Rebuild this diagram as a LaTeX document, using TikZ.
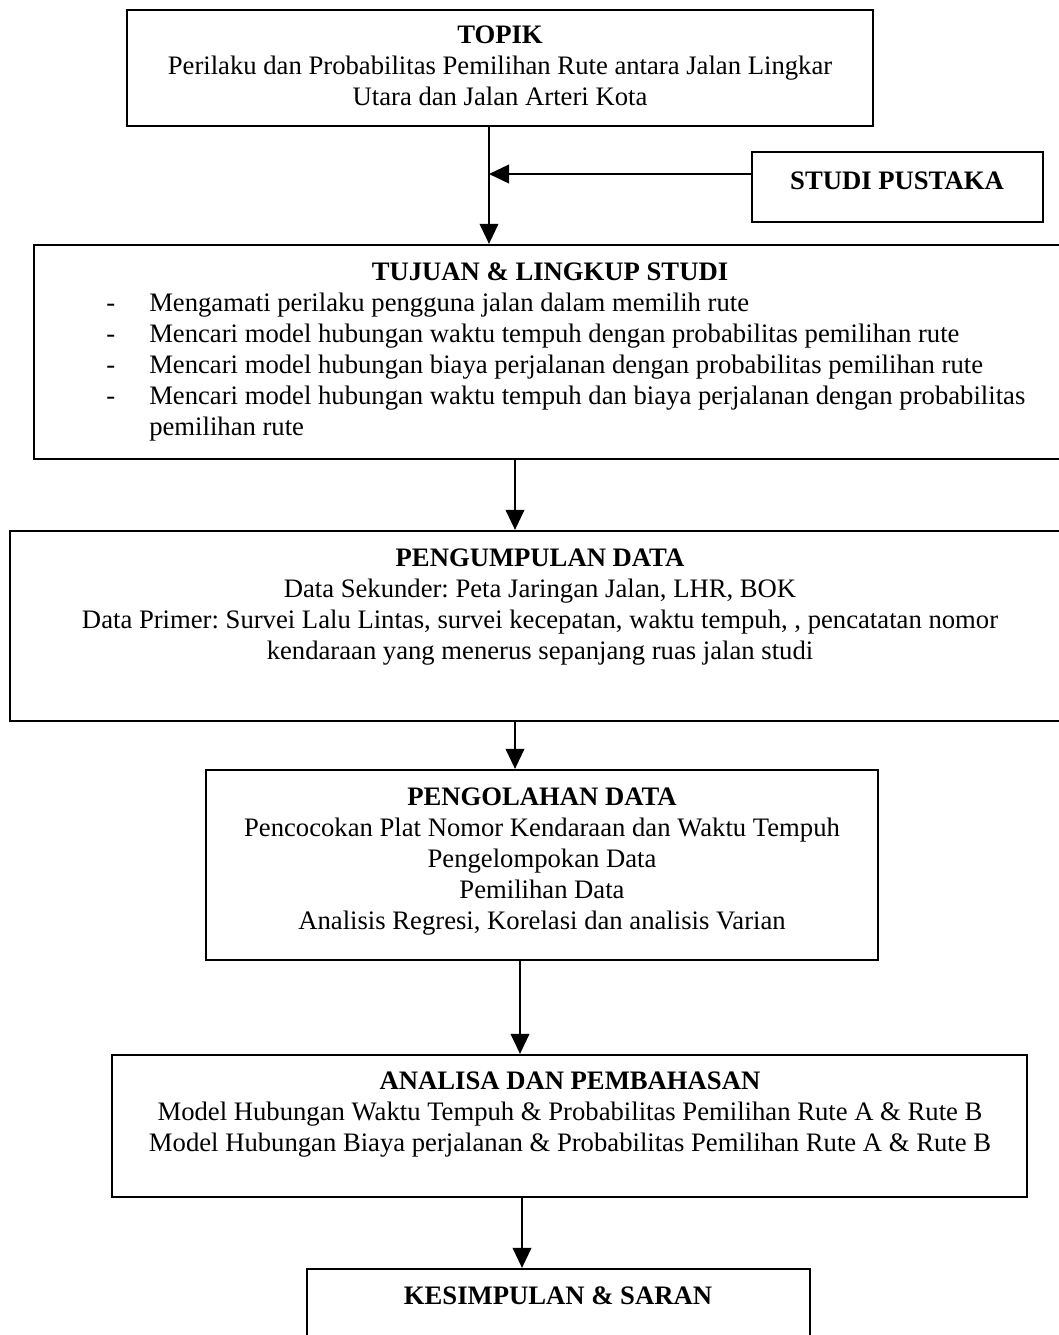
\documentclass[tikz,border=0pt]{standalone}
\usepackage{fontspec}
\setmainfont{Liberation Serif}
\usetikzlibrary{arrows.meta,fit}
\frenchspacing
\begin{document}
\begin{tikzpicture}[x=0.75pt,y=-0.75pt,
  box/.style={draw, line width=1.7pt, inner sep=0pt},
  txt/.style={inner sep=0pt, font=\fontsize{20}{23.25}\selectfont},
  arr/.style={line width=1.2pt, -{Triangle[length=15pt,width=14pt]}}]
\useasboundingbox (0,0) rectangle (1059,1335);
\clip (0,0) rectangle (1059,1335);
\fill[white] (0,0) rectangle (1059,1335);

% boxes
\node[box, fit={(127,10)(873,126)}] (topik) {};
\node[box, fit={(752,152)(1043,222)}] (studi) {};
\node[box, fit={(34,245)(1075,459)}] (tujuan) {};
\node[box, fit={(10,531)(1075,721)}] (kumpul) {};
\node[box, fit={(206,770)(878,960)}] (olah) {};
\node[box, fit={(112,1055)(1027,1197)}] (analisa) {};
\node[box, fit={(307,1269)(810,1350)}] (simpul) {};

% texts
\node[txt, anchor=base] (topikT) at (500,43) {\begin{tabular}[t]{@{}c@{}}\textbf{TOPIK}\\
Perilaku dan Probabilitas Pemilihan Rute antara Jalan Lingkar\\
Utara dan Jalan Arteri Kota\end{tabular}};

\node[txt, anchor=base] (studiT) at (897,189) {\textbf{STUDI PUSTAKA}};

\node[txt, anchor=base] (tujuanT) at (550,280) {\textbf{TUJUAN \& LINGKUP STUDI}};
\node[txt, anchor=base west] (tujuanL) at (106,311) {\begin{tabular}[t]{@{}p{32.25pt}@{}l@{}}
- & Mengamati perilaku pengguna jalan dalam memilih rute\\
- & Mencari model hubungan waktu tempuh dengan probabilitas pemilihan rute\\
- & Mencari model hubungan biaya perjalanan dengan probabilitas pemilihan rute\\
- & Mencari model hubungan waktu tempuh dan biaya perjalanan dengan probabilitas\\
  & pemilihan rute\end{tabular}};

\node[txt, anchor=base] (kumpulT) at (540,566) {\begin{tabular}[t]{@{}c@{}}\textbf{PENGUMPULAN DATA}\\
Data Sekunder: Peta Jaringan Jalan, LHR, BOK\\
Data Primer: Survei Lalu Lintas, survei kecepatan, waktu tempuh, , pencatatan nomor\\
kendaraan yang menerus sepanjang ruas jalan studi\end{tabular}};

\node[txt, anchor=base] (olahT) at (542,805) {\begin{tabular}[t]{@{}c@{}}\textbf{PENGOLAHAN DATA}\\
Pencocokan Plat Nomor Kendaraan dan Waktu Tempuh\\
Pengelompokan Data\\
Pemilihan Data\\
Analisis Regresi, Korelasi dan analisis Varian\end{tabular}};

\node[txt, anchor=base] (analisaT) at (570,1089) {\begin{tabular}[t]{@{}c@{}}\textbf{ANALISA DAN PEMBAHASAN}\\
Model Hubungan Waktu Tempuh \& Probabilitas Pemilihan Rute A \& Rute B\\
Model Hubungan Biaya perjalanan \& Probabilitas Pemilihan Rute A \& Rute B\end{tabular}};

\node[txt, anchor=base] (simpulT) at (558,1304) {\textbf{KESIMPULAN \& SARAN}};

% connectors
\coordinate (a1) at (489,0);
\coordinate (h1) at (0,174);
\coordinate (a2) at (515,0);
\coordinate (a3) at (520,0);
\coordinate (a4) at (522,0);
\draw[arr] (topik.south -| a1) -- (tujuan.north -| a1);
\draw[arr] (studi.west |- h1) -- (a1 |- h1);
\draw[arr] (tujuan.south -| a2) -- (kumpul.north -| a2);
\draw[arr] (kumpul.south -| a2) -- (olah.north -| a2);
\draw[arr] (olah.south -| a3) -- (analisa.north -| a3);
\draw[arr] (analisa.south -| a4) -- (simpul.north -| a4);
\end{tikzpicture}
\end{document}
